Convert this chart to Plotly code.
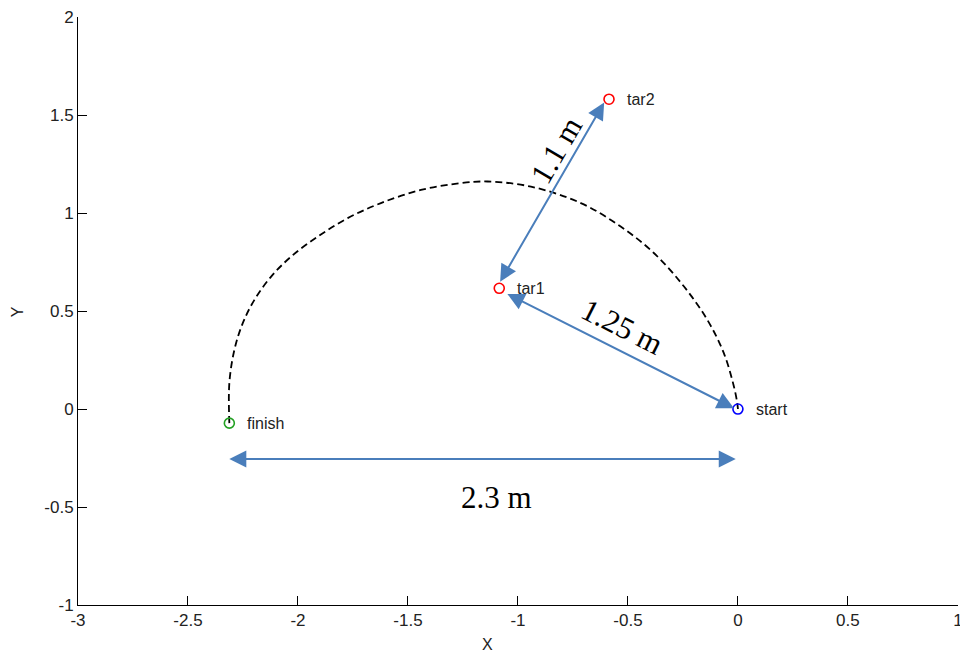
import plotly.graph_objects as go

# ---- data ----
point_names = ["start", "tar1", "tar2", "finish"]
point_x = [0.0, -1.085, -0.586, -2.312]
point_y = [0.0, 0.616, 1.581, -0.072]
point_colors = ["#0000ff", "#ff0000", "#ff0000", "#22a022"]

# dashed path, from finish to start
path_x = [-2.312, -2.312, -2.289, -2.251, -2.198, -2.122, -2.031, -1.910, -1.774,
          -1.623, -1.441, -1.259, -1.138, -0.941, -0.714, -0.533, -0.381, -0.245,
          -0.139, -0.064, -0.018, -0.003, 0.0]
path_y = [-0.072, 0.132, 0.302, 0.438, 0.557, 0.676, 0.778, 0.880, 0.974,
          1.051, 1.118, 1.153, 1.161, 1.135, 1.051, 0.931, 0.795, 0.625,
          0.455, 0.285, 0.114, 0.030, 0.0]

# double-headed distance arrows: tail (x0,y0) -> head (x1,y1)
arrow_x0 = [-1.085, -1.055, -2.319]
arrow_y0 = [0.642, 0.591, -0.255]
arrow_x1 = [-0.608, -0.018, -0.010]
arrow_y1 = [1.564, 0.004, -0.255]

dist_labels = ["1.1 m", "1.25 m", "2.3 m"]
dist_label_x = [-0.823, -0.528, -1.096]
dist_label_y = [1.323, 0.419, -0.449]
dist_label_angle = [-59.7, 26.8, 0]

x_ticks = [-3, -2.5, -2, -1.5, -1, -0.5, 0, 0.5, 1]
x_ticktext = ["-3", "-2.5", "-2", "-1.5", "-1", "-0.5", "0", "0.5", "1"]
y_ticks = [-1, -0.5, 0, 0.5, 1, 1.5, 2]
y_ticktext = ["-1", "-0.5", "0", "0.5", "1", "1.5", "2"]

# ---- figure ----
fig = go.Figure()

fig.add_trace(go.Scatter(
    x=path_x, y=path_y, mode="lines",
    line=dict(color="black", width=1.8, dash="7px,4px", shape="spline", smoothing=1.0),
    hoverinfo="skip", showlegend=False))

for n, x, y, c in zip(point_names, point_x, point_y, point_colors):
    fig.add_trace(go.Scatter(
        x=[x], y=[y], mode="markers",
        marker=dict(symbol="circle-open", size=10, color=c, line=dict(width=1.6, color=c)),
        showlegend=False, name=n))

annotations = []
arrow_color = "#4a7ebb"
for x0, y0, x1, y1 in zip(arrow_x0, arrow_y0, arrow_x1, arrow_y1):
    annotations.append(dict(
        x=x1, y=y1, ax=x0, ay=y0, xref="x", yref="y", axref="x", ayref="y",
        text="", showarrow=True, arrowside="end+start",
        arrowhead=2, startarrowhead=2, arrowsize=1.7, startarrowsize=1.7,
        arrowwidth=2, arrowcolor=arrow_color, standoff=0, startstandoff=0))

for n, x, y in zip(point_names, point_x, point_y):
    annotations.append(dict(
        x=x, y=y, xref="x", yref="y", text=n, showarrow=False,
        xanchor="left", yanchor="middle", xshift=16,
        font=dict(family="Liberation Sans, Arial", size=16, color="#222222")))

for t, x, y, a in zip(dist_labels, dist_label_x, dist_label_y, dist_label_angle):
    annotations.append(dict(
        x=x, y=y, xref="x", yref="y", text=t, showarrow=False, textangle=a,
        xanchor="center", yanchor="middle",
        font=dict(family="Liberation Serif, Times New Roman", size=31, color="black")))

annotations.append(dict(x=0.4648, y=-0.068, xref="paper", yref="paper", text="X",
                        showarrow=False, xanchor="center", yanchor="middle",
                        font=dict(family="Liberation Sans, Arial", size=16, color="#222222")))
annotations.append(dict(x=-0.0693, y=0.498, xref="paper", yref="paper", text="Y",
                        showarrow=False, xanchor="center", yanchor="middle", textangle=-90,
                        font=dict(family="Liberation Sans, Arial", size=16, color="#222222")))

axis_common = dict(showgrid=False, zeroline=False, showline=True, linecolor="black",
                   linewidth=1, ticks="inside", ticklen=9, tickcolor="black",
                   tickfont=dict(family="Liberation Sans, Arial", size=17, color="#222222"),
                   mirror=False, automargin=False)

fig.update_layout(
    width=960, height=655,
    margin=dict(l=78, r=2, t=17, b=50, autoexpand=False),
    paper_bgcolor="white", plot_bgcolor="white",
    xaxis=dict(range=[-3, 1.0005], tickvals=x_ticks, ticktext=x_ticktext,
               ticklabeloverflow="allow", **axis_common),
    yaxis=dict(range=[-1, 2.0005], tickvals=y_ticks, ticktext=y_ticktext, **axis_common),
    annotations=annotations,
)

fig.write_html("out.html")
